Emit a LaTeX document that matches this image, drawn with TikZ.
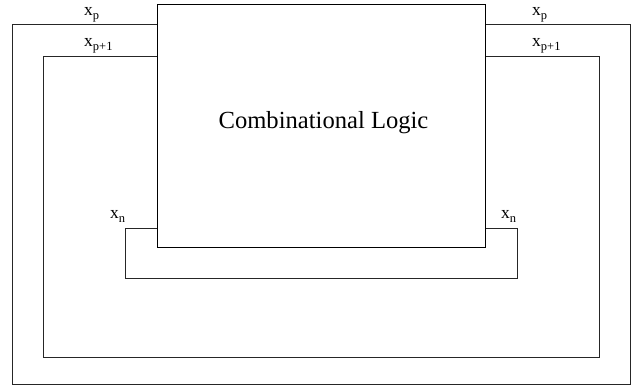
\documentclass[tikz,border=0pt]{standalone}
\usepackage{fontspec}
\setmainfont{Liberation Serif}
\begin{document}
\begin{tikzpicture}[x=1pt,y=-1pt,
  wire/.style={line width=0.9pt,black!85},
  lbl/.style={inner sep=0pt,anchor=south west,font=\fontsize{17.5}{17.5}\selectfont},
  logicbox/.style={draw,line width=0.9pt,minimum width=328pt,minimum height=243pt,inner sep=0pt}]
\useasboundingbox (0,0) rectangle (636,391);
\newcommand{\xsub}[1]{x\raisebox{-4pt}{\fontsize{12.5}{12.5}\selectfont #1}}
\node[logicbox] (box) at (321.5,126) {};
\node[font=\fontsize{24.6}{24.6}\selectfont,anchor=base,inner sep=0pt] (title) at (323.5,128) {Combinational Logic};
\coordinate (yp) at (0,24.5);
\coordinate (yq) at (0,56);
\coordinate (yn) at (0,228);
\coordinate (op) at (12,384);
\coordinate (oq) at (43,357);
\coordinate (on) at (125,278);
\coordinate (rp) at (630,384);
\coordinate (rq) at (599,357);
\coordinate (rn) at (517,278);
\draw[wire] (box.west |- yp) -| (op) -| (rp) |- (box.east |- yp);
\draw[wire] (box.west |- yq) -| (oq) -| (rq) |- (box.east |- yq);
\draw[wire] (box.west |- yn) -| (on) -| (rn) |- (box.east |- yn);
\node[lbl] (lp) at (84,22) {\xsub{p}};
\node[lbl] (rpl) at (532,22) {\xsub{p}};
\node[lbl] (lq) at (84,53.5) {\xsub{p+1}};
\node[lbl] (rql) at (532,53.5) {\xsub{p+1}};
\node[lbl] (ln) at (110,222.5) {\xsub{n}};
\node[lbl] (rnl) at (501,222.5) {\xsub{n}};
\end{tikzpicture}
\end{document}
